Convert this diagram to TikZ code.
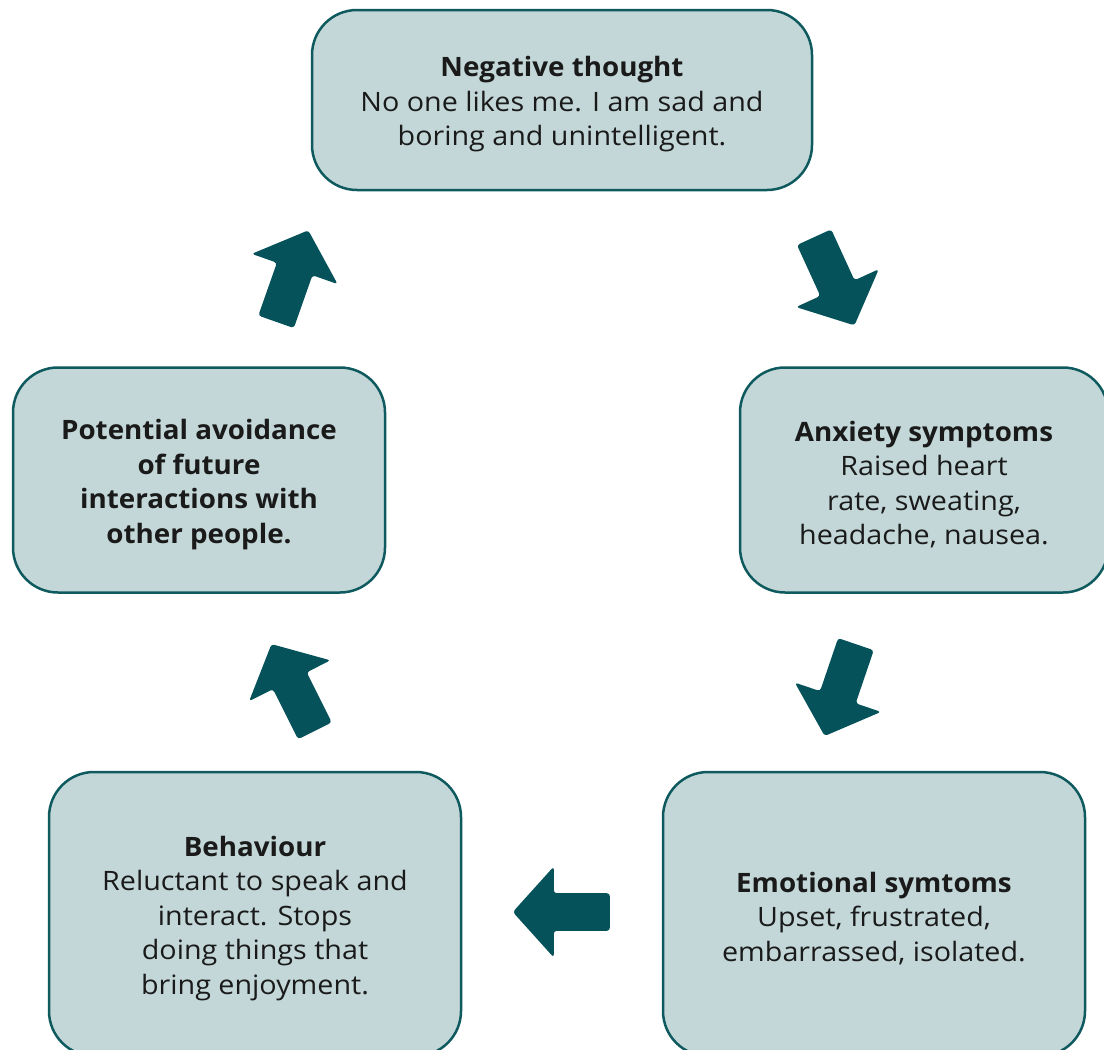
\documentclass[tikz,border=0pt]{standalone}
\usepackage{fontspec}
\setmainfont{Open Sans}[FakeStretch=1.075, BoldFeatures={FakeStretch=1.04}]
\usepackage{tikz}
\usetikzlibrary{shapes.arrows, positioning}

\definecolor{boxfill}{HTML}{C3D7D8}
\definecolor{boxline}{HTML}{0E5A5E}
\definecolor{arrowteal}{HTML}{05525A}
\definecolor{inktext}{HTML}{1A1A1A}

\newcommand{\topgap}{\rule{0pt}{29pt}}

\begin{document}
\begin{tikzpicture}[
    x=1pt, y=-1pt,
    stage/.style={rectangle, draw=boxline, line width=2.5pt, fill=boxfill, rounded corners=45pt, align=center, text=inktext, font=\fontsize{26.7}{34.5}\selectfont},
    bigarrow/.style={single arrow, fill=arrowteal, rounded corners=3pt, minimum height=97pt, minimum width=91pt, inner ysep=18.5pt, single arrow head extend=26.5pt, single arrow tip angle=96, anchor=tail}
]
    \useasboundingbox (0,0) rectangle (1104,1050);

    % Stages
    \node[stage, minimum width=500pt, minimum height=180pt] (thought) at (562,100) {\topgap\textbf{Negative thought}\\No one likes me. I am sad and\\boring and unintelligent.};
    \node[stage, minimum width=368pt, minimum height=225pt] (anxiety) at (924,480) {\topgap\textbf{Anxiety symptoms}\\Raised heart\\rate, sweating,\\headache, nausea.};
    \node[stage, minimum width=422pt, minimum height=284pt] (emotion) at (874,914) {\topgap\textbf{Emotional symtoms}\\Upset, frustrated,\\embarrassed, isolated.};
    \node[stage, minimum width=412pt, minimum height=284pt] (behaviour) at (255,914) {\topgap\textbf{Behaviour}\\Reluctant to speak and\\interact. Stops\\doing things that\\bring enjoyment.};
    \node[stage, minimum width=372pt, minimum height=225pt] (avoid) at (199,480) {\topgap\textbf{Potential avoidance}\\\textbf{of future}\\\textbf{interactions with}\\\textbf{other people.}};

    % Arrows
    \node[bigarrow, rotate=-65.4] (toanxiety) at (814,237) {};
    \node[bigarrow, rotate=-108.8] (toemotion) at (856,644) {};
    \node[bigarrow, rotate=180] (tobehaviour) at (610,912) {};
    \node[bigarrow, rotate=116.6] (toavoid) at (315,731) {};
    \node[bigarrow, rotate=70.6] (tothought) at (276,322) {};

\end{tikzpicture}
\end{document}
